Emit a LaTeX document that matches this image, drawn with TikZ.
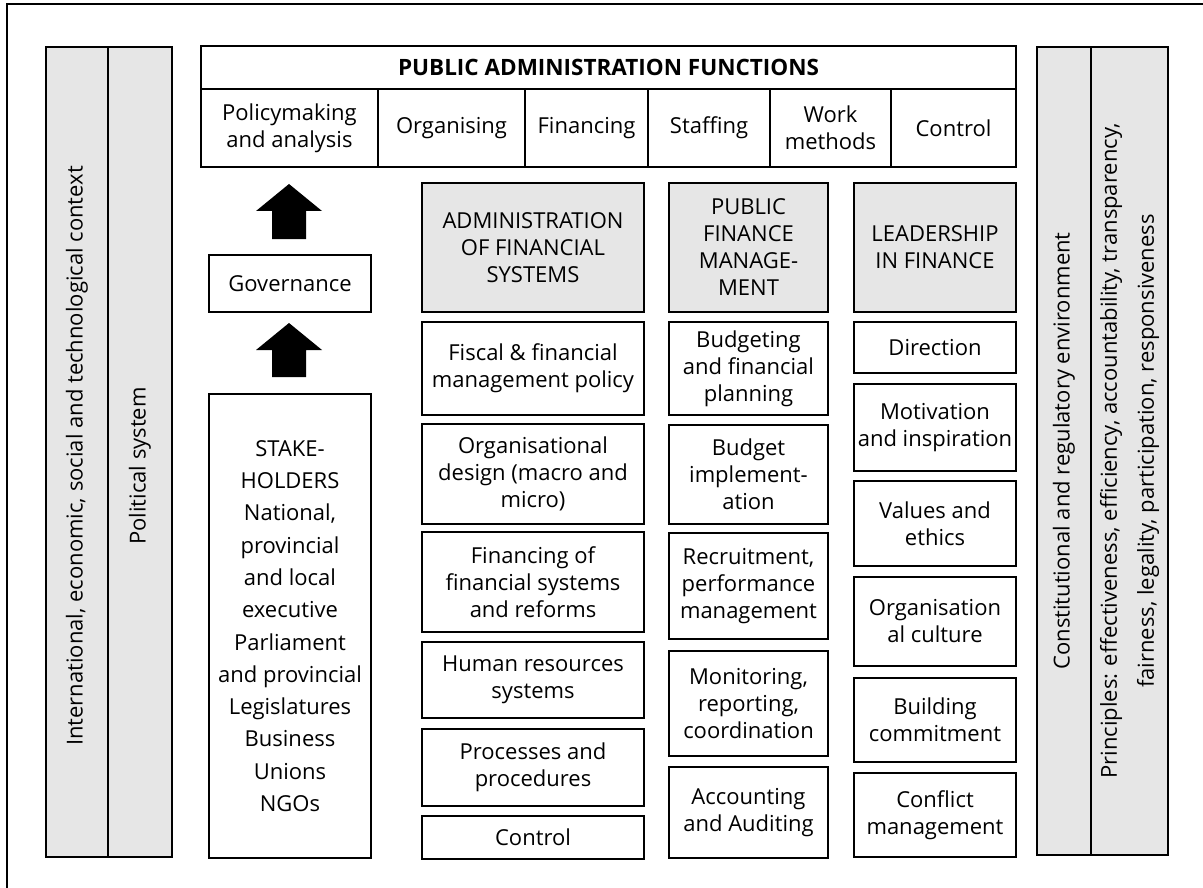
\documentclass[tikz,border=0pt]{standalone}
\usepackage{fontspec}
\setmainfont{Open Sans}
\definecolor{panel}{HTML}{E6E6E6}
% box from (x1,y1) to (x2,y2), y measured downwards
\newcommand\blk[7][cell]{%
  \node[#1, minimum width={#5-#3}, minimum height={#6-#4}] (#2)
    at ({(#3+#5)/2},{(#4+#6)/2}) {#7};}
\begin{document}
\begin{tikzpicture}[x=1pt, y=-1pt, line width=2pt,
  every node/.style={inner sep=0pt, outer sep=0pt, align=center,
    font=\fontsize{22}{27}\selectfont},
  cell/.style={draw, rectangle},
  shaded/.style={cell, fill=panel},
  vtext/.style={rotate=90},
  blockarrow/.style={fill=black, draw=none}]
\useasboundingbox (0,0) rectangle (1203,888);
\draw[line width=1.8pt] (1203,4) -- (7,4) -- (7,888);

% context bands, left
\blk[shaded]{ctx}{46}{47}{108}{857}{}
\blk[shaded]{pol}{108}{47}{172}{857}{}
\node[vtext] at ([yshift=-4]ctx.center) {International, economic, social and technological context};
\node[vtext] at ([yshift=-14]pol.center) {Political system};

% context bands, right
\blk[shaded]{con}{1037}{47}{1091}{855}{}
\blk[shaded]{pri}{1091}{47}{1168}{855}{}
\node[vtext] at (con.center) {Constitutional and regulatory environment};
\node[vtext, font=\fontsize{22}{37}\selectfont] at (pri.center)
  {Principles: effectiveness, efficiency, accountability, transparency,\\
   fairness, legality, participation, responsiveness};

% functions header
\blk{paf}{201}{46}{1016}{167}{}
\blk{paft}{201}{46}{1016}{89}{\fontsize{22.5}{26}\selectfont\bfseries PUBLIC ADMINISTRATION FUNCTIONS}
\blk{f1}{201}{89}{378}{167}{Policymaking\\and analysis}
\blk{f2}{378}{89}{525}{167}{Organising}
\blk{f3}{525}{89}{648}{167}{Financing}
\blk{f4}{648}{89}{770}{167}{Staffing}
\blk{f5}{770}{89}{891}{167}{Work\\methods}
\blk{f6}{891}{89}{1016}{167}{Control}

% governance and stakeholders
\blk{gov}{209}{255}{371}{312}{Governance}
\blk[cell, font=\fontsize{22}{32.3}\selectfont]{stk}{209}{394}{371}{858}
  {STAKE-\\HOLDERS\\National,\\provincial\\and local\\executive\\Parliament\\and provincial\\Legislatures\\Business\\Unions\\NGOs}

% block arrows
\fill[blockarrow] (289,184) -- (322,211) -- (306,211) -- (306,239)
  -- (272,239) -- (272,211) -- (256,211) -- cycle;
\fill[blockarrow] (289,323) -- (322,350) -- (306,350) -- (306,377)
  -- (272,377) -- (272,350) -- (256,350) -- cycle;

% administration of financial systems
\blk[shaded]{afs}{422}{183}{644}{312}{ADMINISTRATION\\OF FINANCIAL\\SYSTEMS}
\blk{a1}{422}{322}{644}{415}{Fiscal \& financial\\management policy}
\blk{a2}{422}{424}{644}{524}{Organisational\\design (macro and\\micro)}
\blk{a3}{422}{532}{644}{632}{Financing of\\financial systems\\and reforms}
\blk{a4}{422}{642}{644}{718}{Human resources\\systems}
\blk{a5}{422}{729}{644}{806}{Processes and\\procedures}
\blk{a6}{422}{816}{644}{859}{Control}

% public finance management
\blk[shaded]{pfm}{669}{183}{828}{312}{PUBLIC\\FINANCE\\MANAGE-\\MENT}
\blk{p1}{669}{322}{828}{415}{Budgeting\\and financial\\planning}
\blk{p2}{669}{425}{828}{524}{Budget\\implement-\\ation}
\blk{p3}{669}{533}{828}{639}{Recruitment,\\performance\\management}
\blk{p4}{669}{651}{828}{756}{Monitoring,\\reporting,\\coordination}
\blk{p5}{669}{767}{828}{858}{Accounting\\and Auditing}

% leadership in finance
\blk[shaded]{lif}{854}{183}{1016}{312}{LEADERSHIP\\IN FINANCE}
\blk{l1}{854}{322}{1016}{373}{Direction}
\blk{l2}{854}{384}{1016}{471}{Motivation\\and inspiration}
\blk{l3}{854}{481}{1016}{566}{Values and\\ethics}
\blk{l4}{854}{577}{1016}{666}{Organisation\\al culture}
\blk{l5}{854}{678}{1016}{762}{Building\\commitment}
\blk{l6}{854}{773}{1016}{857}{Conflict\\management}
\end{tikzpicture}
\end{document}
